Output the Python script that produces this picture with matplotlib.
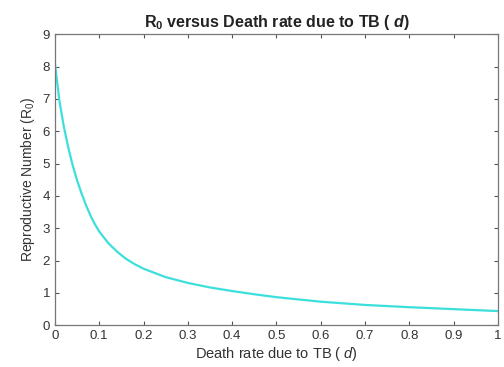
import matplotlib
matplotlib.use("Agg")
import matplotlib.pyplot as plt

plt.rcParams["font.family"] = ["Liberation Sans", "DejaVu Sans"]
plt.rcParams["mathtext.fontset"] = "custom"
plt.rcParams["mathtext.rm"] = "Liberation Sans"
plt.rcParams["mathtext.it"] = "Liberation Sans:italic"
plt.rcParams["mathtext.bf"] = "Liberation Sans:bold"
plt.rcParams["mathtext.bfit"] = "Liberation Sans:bold:italic"

# Death rate due to TB (d) and the basic reproductive number R0
death_rate = [0.00, 0.01, 0.02, 0.03, 0.04, 0.05, 0.06, 0.07, 0.08, 0.09,
              0.10, 0.12, 0.14, 0.16, 0.18, 0.20, 0.25, 0.30, 0.35, 0.40,
              0.45, 0.50, 0.60, 0.70, 0.80, 0.90, 1.00]
r0 = [8.10, 6.95, 6.15, 5.50, 4.95, 4.48, 4.08, 3.72, 3.40, 3.13,
      2.90, 2.55, 2.28, 2.06, 1.89, 1.75, 1.49, 1.31, 1.17, 1.06,
      0.96, 0.87, 0.73, 0.63, 0.56, 0.50, 0.44]

x_ticks = [0, 0.1, 0.2, 0.3, 0.4, 0.5, 0.6, 0.7, 0.8, 0.9, 1]
x_tick_labels = ["0", "0.1", "0.2", "0.3", "0.4", "0.5", "0.6", "0.7", "0.8", "0.9", "1"]
y_ticks = list(range(0, 10))

fig = plt.figure(figsize=(5.04, 3.67), dpi=100)
ax = fig.add_axes([0.109, 0.1136, 0.879, 0.793])

ax.plot(death_rate, r0, color="#3ddfdc", linewidth=1.6)

ax.set_xlim(0, 1)
ax.set_ylim(0, 9)
ax.set_xticks(x_ticks)
ax.set_xticklabels(x_tick_labels)
ax.set_yticks(y_ticks)

ax.tick_params(direction="in", top=True, right=True, length=3,
               width=0.8, colors="#555555", labelcolor="#333333", labelsize=9.5)
for s in ax.spines.values():
    s.set_color("#777777")
    s.set_linewidth(0.9)

ax.set_title(r"R$_\mathbf{0}$ versus Death rate due to TB ( $\mathbfit{d}$)",
             fontsize=11.5, fontweight="bold", color="#222222", pad=5)
ax.set_xlabel(r"Death rate due to TB ( $d$)", fontsize=10.5, color="#333333", labelpad=2)
ax.set_ylabel(r"Reproductive Number (R$_0$)", fontsize=10, color="#333333", labelpad=4)

fig.savefig("out.png", dpi=100, facecolor="white")
